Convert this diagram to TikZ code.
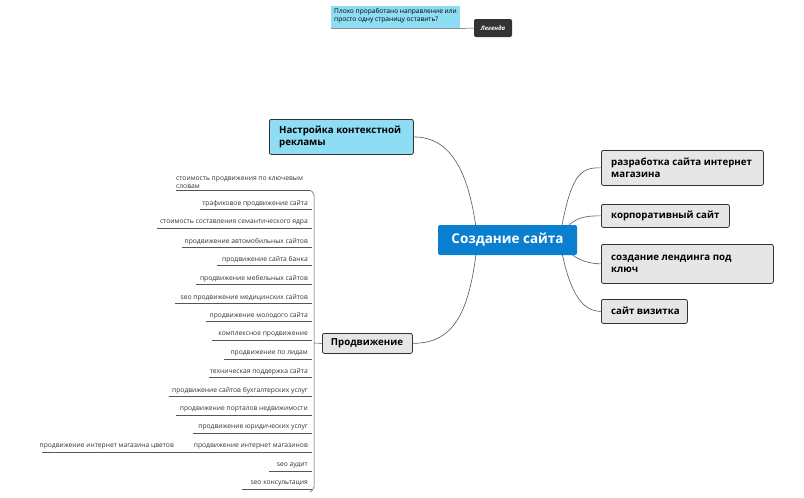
\documentclass[tikz,border=0pt]{standalone}
\usepackage{fontspec}
\setmainfont{Open Sans}
\usetikzlibrary{backgrounds}
\definecolor{cblue}{HTML}{0A7FD0}
\definecolor{lblue}{HTML}{8FDCF5}
\definecolor{gfill}{HTML}{E6E6E6}
\definecolor{lgray}{HTML}{555555}
\begin{document}
\begin{tikzpicture}[x=1pt,y=-1pt,
  topic/.style={draw=black!80,line width=0.8pt,rounded corners=2pt,fill=gfill,inner sep=0pt,anchor=north west},
  ttext/.style={anchor=west,font=\bfseries\fontsize{9.7}{11.8}\selectfont,align=left,inner sep=0pt},
  leaf/.style={font=\fontsize{6.7}{8}\selectfont,text=black!80,anchor=east,inner sep=1pt},
  ul/.style={draw=lgray,line width=0.5pt},
  conn/.style={draw=lgray,line width=0.6pt}]
\useasboundingbox (0,0) rectangle (804,498);
% legend
\node[fill=lblue,minimum width=129pt,minimum height=22pt,anchor=north west,inner sep=0pt] (note) at (331,6) {};
\node[anchor=north west,font=\fontsize{6.6}{8}\selectfont,align=left,inner sep=0pt] (notet) at (334,8) {Плохо проработано направление или\\просто одну страницу оставить?};
\node[fill=black!80,rounded corners=2pt,text=white,font=\bfseries\itshape\fontsize{6}{7}\selectfont,minimum width=38pt,minimum height=18pt,inner sep=0pt] (leg) at (493,28) {Легенда};
\draw[ul] (note.south west) -- (note.south east) -- (leg.west);
% central
\node[fill=cblue,rounded corners=2pt,text=white,font=\bfseries\fontsize{13.5}{15}\selectfont,minimum width=139pt,minimum height=30pt,inner sep=0pt] (c) at (507.5,240) {Создание сайта};
% main topics
\node[topic,fill=lblue,minimum width=144pt,minimum height=35pt] (n) at (269,119) {};
\node[ttext] at (279,136.5) {Настройка контекстной\\рекламы};
\node[topic,minimum width=162pt,minimum height=35pt] (r1) at (601,150) {};
\node[ttext] at (611,167.5) {разработка сайта интернет\\магазина};
\node[topic,minimum width=128pt,minimum height=23pt] (r2) at (601,204) {};
\node[ttext] at (611,215.5) {корпоративный сайт};
\node[topic,minimum width=172pt,minimum height=39pt] (r3) at (601,244) {};
\node[ttext] at (611,263.5) {создание лендинга под\\ключ};
\node[topic,minimum width=86pt,minimum height=24pt] (r4) at (601,299) {};
\node[ttext] at (611,311) {сайт визитка};
\node[topic,minimum width=90pt,minimum height=20pt] (p) at (322,333) {};
\node[ttext,anchor=center] at (367,343) {Продвижение};
% connectors
\begin{scope}[on background layer]
\draw[conn] (c.center) ++(52,0) .. controls (570,175) and (580,167) .. (r1.west);
\draw[conn] (c.center) ++(52,0) .. controls (568,220) and (580,215.5) .. (r2.west);
\draw[conn] (c.center) ++(52,0) .. controls (570,258) and (585,263.5) .. (r3.west);
\draw[conn] (c.center) ++(52,0) .. controls (570,300) and (585,311) .. (r4.west);
\draw[conn] (c.center) ++(-30,0) .. controls (470,170) and (450,137) .. (n.east);
\draw[conn] (c.center) ++(-30,0) .. controls (470,320) and (450,343) .. (p.east);
\end{scope}
% leaves
\node[leaf,anchor=west,align=left] (l0) at (175,183) {стоимость продвижения по ключевым\\словам};
\draw[ul] (176,190) -- (310,190);
\foreach \t/\y/\w in {
 {трафиковое продвижение сайта}/209/112,
 {стоимость составления семантического ядра}/228/155,
 {продвижение автомобильных сайтов}/247/130,
 {продвижение сайта банка}/265/95,
 {продвижение мебельных сайтов}/284/116,
 {seo продвижение медицинских сайтов}/303/137,
 {продвижение молодого сайта}/321/106,
 {комплексное продвижение}/340/100,
 {продвижение по лидам}/359/88,
 {техническая поддержка сайта}/377/103,
 {продвижение сайтов бухгалтерских услуг}/396/143,
 {продвижение порталов недвижимости}/415/136,
 {продвижение юридических услуг}/433/119,
 {продвижение интернет магазинов}/452/128,
 {seo аудит}/471/43,
 {seo консультация}/489/70}{
 \node[leaf] at (309,\y-5.5) {\t};
 \draw[ul] (312-\w,\y) -- (312,\y);
}
\node[leaf] (lf) at (175,446.5) {продвижение интернет магазина цветов};
\draw[ul] (42,452) -- (184,452);
\draw[ul,rounded corners=2pt] (310,190) -- (314,193) -- (314,489) -- (310,492);
\draw[ul] (314,343) -- (p.west);
\end{tikzpicture}
\end{document}
